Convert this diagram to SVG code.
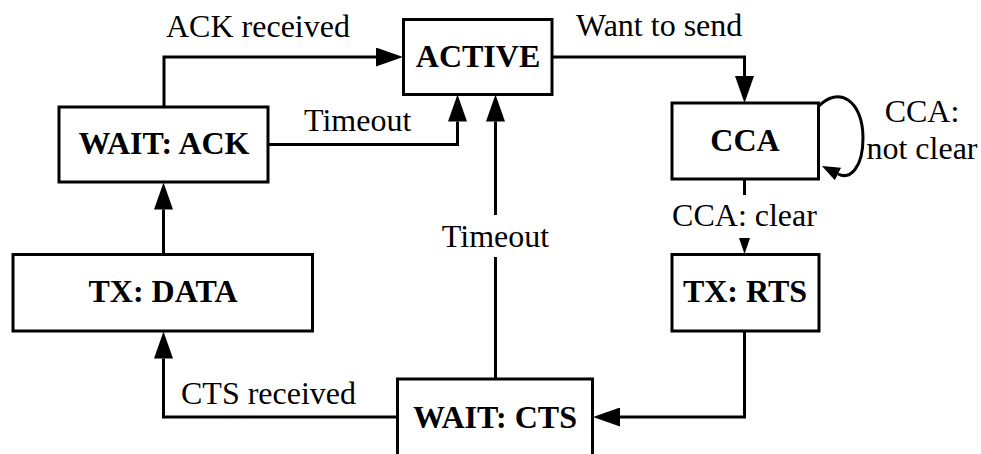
<svg xmlns="http://www.w3.org/2000/svg" width="981" height="454" viewBox="0 0 981 454" font-family="Liberation Serif" font-size="32">
  <style>
    .box { fill: #ffffff; stroke: #000000; stroke-width: 3; }
    .title { font-weight: bold; fill: #000000; text-anchor: middle; }
    .label { fill: #000000; }
    .mid { text-anchor: middle; }
    .edge { fill: none; stroke: #000000; stroke-width: 3; }
  </style>
  <defs>
    <marker id="arrow" markerUnits="userSpaceOnUse" viewBox="0 0 27 19" refX="0" refY="9.5" markerWidth="27" markerHeight="19" orient="auto">
      <path d="M0,0 L27,9.5 L0,19 z" fill="#000000"/>
    </marker>
    <marker id="arrow-small" markerUnits="userSpaceOnUse" viewBox="0 0 16 11" refX="0" refY="5.5" markerWidth="16" markerHeight="11" orient="auto">
      <path d="M0,0 L16,5.5 L0,11 z" fill="#000000"/>
    </marker>
    <marker id="arrow-loop" markerUnits="userSpaceOnUse" viewBox="0 0 18 14" refX="0" refY="7" markerWidth="18" markerHeight="14" orient="auto">
      <path d="M0,0 L18,7 L0,14 z" fill="#000000"/>
    </marker>
  </defs>

  <!-- transitions -->
  <g id="connectors">
    <path class="edge" d="M164,107 V57 H376" marker-end="url(#arrow)"/>
    <path class="edge" d="M268,144.5 H457.5 V121.5" marker-end="url(#arrow)"/>
    <path class="edge" d="M495.5,379 V257"/>
    <path class="edge" d="M495.5,215 V121.5" marker-end="url(#arrow)"/>
    <path class="edge" d="M552,57 H744.5 V76" marker-end="url(#arrow)"/>
    <path class="edge" d="M818,107 C838,85 863,100 863,138 C863,168 850,180 838,174" marker-end="url(#arrow-loop)"/>
    <path class="edge" d="M744.5,179 V195"/>
    <path d="M744.5,236 V238" fill="none" stroke="none" marker-end="url(#arrow-small)"/>
    <path class="edge" d="M744.5,331 V417 H620" marker-end="url(#arrow)"/>
    <path class="edge" d="M397.5,417 H163.5 V358.5" marker-end="url(#arrow)"/>
    <path class="edge" d="M163.5,254.5 V209.5" marker-end="url(#arrow)"/>
  </g>

  <!-- transition labels -->
  <g id="labels" font-family="Liberation Serif">
    <text class="label" x="166" y="37">ACK received</text>
    <text class="label" x="304" y="131">Timeout</text>
    <text class="label" x="576" y="36">Want to send</text>
    <text class="label mid" x="922" y="122">CCA:</text>
    <text class="label mid" x="922" y="159">not clear</text>
    <text class="label mid" x="744.5" y="226">CCA: clear</text>
    <text class="label mid" x="495.5" y="247">Timeout</text>
    <text class="label" x="181" y="404">CTS received</text>
  </g>

  <!-- states -->
  <g id="active" font-family="Liberation Serif">
    <rect class="box" x="403.5" y="19.5" width="148.5" height="75"/>
    <text class="title" x="478" y="67">ACTIVE</text>
  </g>
  <g id="wait-ack" font-family="Liberation Serif">
    <rect class="box" x="59" y="107" width="209" height="75"/>
    <text class="title" x="164" y="154">WAIT: ACK</text>
  </g>
  <g id="cca" font-family="Liberation Serif">
    <rect class="box" x="672" y="103" width="146.5" height="76"/>
    <text class="title" x="745" y="151">CCA</text>
  </g>
  <g id="tx-data" font-family="Liberation Serif">
    <rect class="box" x="13" y="254.5" width="299.5" height="76.5"/>
    <text class="title" x="163" y="302">TX: DATA</text>
  </g>
  <g id="tx-rts" font-family="Liberation Serif">
    <rect class="box" x="672" y="254.5" width="147" height="76.5"/>
    <text class="title" x="745" y="302">TX: RTS</text>
  </g>
  <g id="wait-cts" font-family="Liberation Serif">
    <rect class="box" x="397.5" y="379" width="195" height="78"/>
    <text class="title" x="495" y="428">WAIT: CTS</text>
  </g>
</svg>
